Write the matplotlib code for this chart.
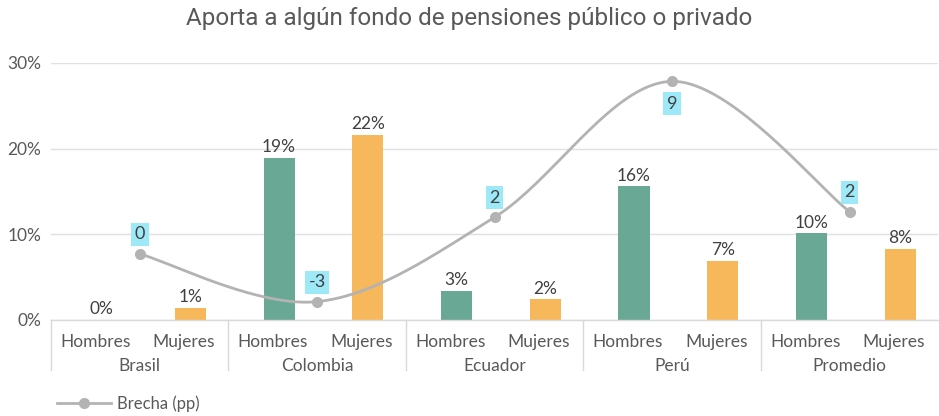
import numpy as np
import matplotlib
matplotlib.use('Agg')
import matplotlib.pyplot as plt
from matplotlib.lines import Line2D
import matplotlib.transforms as mtransforms

# datos (porcentaje)
paises = ['Brasil', 'Colombia', 'Ecuador', 'Perú', 'Promedio']
sexos = ['Hombres', 'Mujeres']
hombres = [0.0, 18.9, 3.4, 15.6, 10.1]
mujeres = [1.4, 21.6, 2.4, 6.9, 8.3]
brecha = [-0.4, -3.0, 1.6, 9.0, 1.9]   # pp, eje secundario
yticks = [0, 10, 20, 30]

verde, naranja, gris, cian = '#68a894', '#f7b85c', '#b3b3b3', '#9de9f7'
txt = '#595959'
plt.rcParams['font.family'] = ['Lato', 'DejaVu Sans']
fs = 12.5


def suave(px, py, n=40):
    # curva tipo excel (catmull-rom) entre los puntos
    px, py = np.asarray(px, float), np.asarray(py, float)
    P = np.column_stack([px, py])
    P = np.vstack([P[0], P, P[-1]])
    xs, ys = [], []
    t = np.linspace(0, 1, n)
    for i in range(1, len(P) - 2):
        p0, p1, p2, p3 = P[i - 1], P[i], P[i + 1], P[i + 2]
        c1 = p1 + (p2 - p0) / 6
        c2 = p2 - (p3 - p1) / 6
        b = ((1 - t) ** 3)[:, None] * p1 + (3 * (1 - t) ** 2 * t)[:, None] * c1 \
            + (3 * (1 - t) * t ** 2)[:, None] * c2 + (t ** 3)[:, None] * p2
        xs.extend(b[:, 0]); ys.extend(b[:, 1])
    return xs, ys


fig = plt.figure(figsize=(9.39, 4.16), dpi=100)
ax = fig.add_axes([0.0543, 0.2308, 0.945, 0.6178])

ng = len(paises)
xh = np.arange(ng) * 2
xm = xh + 1
off = 0.07
w = 0.35
ax.bar(xh + off, hombres, w, color=verde, zorder=2)
ax.bar(xm + off, mujeres, w, color=naranja, zorder=2)
for xs_, vals in ((xh, hombres), (xm, mujeres)):
    for xi, v in zip(xs_, vals):
        ax.annotate(f'{v:.0f}%', (xi + off, v), xytext=(0, 2), textcoords='offset points',
                    ha='center', va='bottom', fontsize=fs, color='#404040')

ax.set_xlim(-0.5, 2 * ng - 0.5)
ax.set_ylim(0, 30)
ax.set_yticks(yticks)
ax.set_yticklabels([f'{v}%' for v in yticks], fontsize=fs, color=txt)
ax.tick_params(axis='y', length=0, pad=7)
ax.set_xticks([])
ax.grid(axis='y', color='#e0e0e0', lw=1, zorder=0)
ax.set_axisbelow(True)
for s in ['left', 'right', 'top']:
    ax.spines[s].set_visible(False)
ax.spines['bottom'].set_color('#d9d9d9')
ax.spines['bottom'].set_linewidth(1)

trans = mtransforms.blended_transform_factory(ax.transData, ax.transAxes)
for g in range(ng):
    ax.plot([2 * g - 0.5, 2 * g - 0.5], [0, -0.195], transform=trans, color='#d9d9d9',
            lw=1, clip_on=False)
    for k, s in enumerate(sexos):
        ax.text(2 * g + k, -0.085, s, transform=trans, ha='center', va='center',
                fontsize=fs, color=txt)
    ax.text(2 * g + 0.5, -0.178, paises[g], transform=trans, ha='center', va='center',
            fontsize=fs, color=txt)

ax2 = ax.twinx()
ax2.set_ylim(-4, 10)
ax2.axis('off')
xb = xh + 0.5
cx, cy = suave(xb, brecha)
ax2.plot(cx, cy, color=gris, lw=2, solid_capstyle='round')
ax2.plot(xb, brecha, 'o', color=gris, ms=7)
for i, (xi, v) in enumerate(zip(xb, brecha)):
    dy = -16 if v == max(brecha) else 14
    ax2.annotate(f'{round(v)}', (xi, v), xytext=(0, dy), textcoords='offset points',
                 ha='center', va='center', fontsize=13, color='#404040',
                 bbox=dict(boxstyle='square,pad=0.2', fc=cian, ec='none'))

fig.text(0.5, 0.955, 'Aporta a algún fondo de pensiones público o privado',
         ha='center', va='center', fontsize=17.5, color=txt, family=['Roboto', 'DejaVu Sans'])

h = Line2D([], [], color=gris, lw=2, marker='o', ms=7)
fig.legend([h], ['Brecha (pp)'], loc='center left', bbox_to_anchor=(0.045, 0.03),
           frameon=False, handlelength=3.2, handletextpad=0.4,
           prop={'size': 12}, labelcolor=txt)

fig.savefig('out.png', dpi=100)
